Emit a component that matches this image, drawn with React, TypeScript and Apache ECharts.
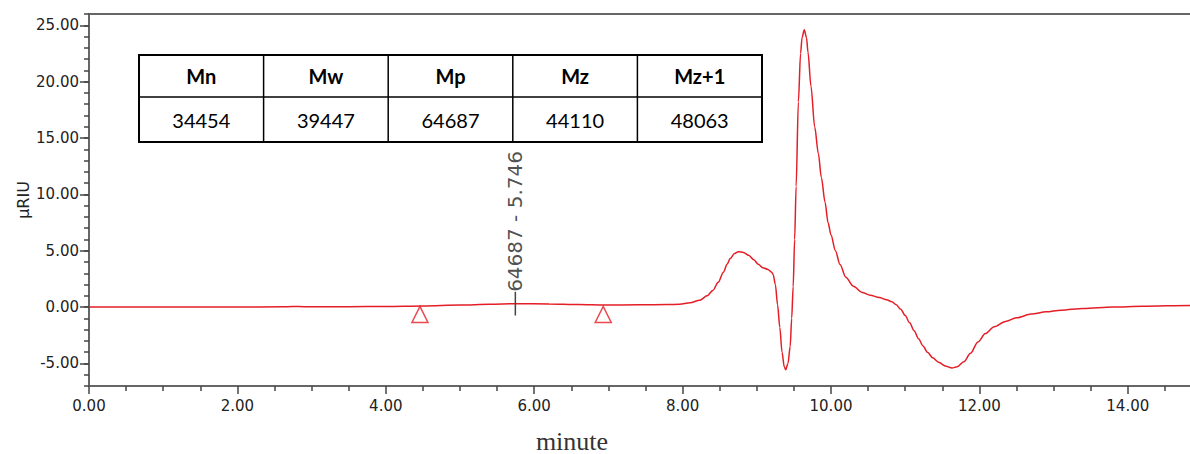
import React, { useEffect, useRef } from 'react';
import * as echarts from 'echarts';

// Retention time (minute)
const timeMin = [
  0.0, 1.0, 2.0, 2.6, 2.75, 2.9, 3.0, 3.5, 4.0, 4.5, 5.0, 5.4, 5.75, 6.2, 6.6, 6.95, 7.4, 7.8,
  7.96, 8.1, 8.23, 8.33, 8.41, 8.48, 8.55, 8.6, 8.64, 8.7, 8.75, 8.82, 8.89, 8.96, 9.02, 9.08,
  9.15, 9.2, 9.22, 9.25, 9.28, 9.31, 9.34, 9.37, 9.39, 9.42, 9.45, 9.47, 9.49, 9.51, 9.53, 9.56,
  9.59, 9.61, 9.64, 9.67, 9.69, 9.73, 9.78, 9.83, 9.87, 9.92, 9.96, 10.0, 10.06, 10.12, 10.2,
  10.3, 10.42, 10.53, 10.65, 10.75, 10.82, 10.88, 10.94, 11.0, 11.06, 11.12, 11.18, 11.24, 11.3,
  11.37, 11.45, 11.55, 11.63, 11.7, 11.79, 11.88, 11.98, 12.08, 12.2, 12.35, 12.5, 12.7, 12.9, 13.1,
  13.4, 13.8, 14.2, 14.84, 15.0,
];
// Detector response (µRIU)
const signal = [
  0.0, 0.0, 0.0, 0.02, 0.06, 0.04, 0.03, 0.04, 0.06, 0.1, 0.18, 0.25, 0.3, 0.28, 0.22, 0.18, 0.2, 0.22,
  0.26, 0.38, 0.6, 1.0, 1.5, 2.2, 3.1, 3.8, 4.3, 4.75, 4.91, 4.85, 4.6, 4.2, 3.8, 3.5,
  3.34, 3.1, 2.9, 2.0, 0.2, -1.8, -4.0, -5.3, -5.55, -5.0, -3.5, -1.0, 1.8, 6.0, 10.7, 18.2,
  22.5, 23.9, 24.6, 23.9, 22.6, 19.6, 16.0, 13.6, 11.5, 9.3, 7.5, 6.4, 5.0, 3.8, 2.65,
  1.85, 1.3, 1.05, 0.85, 0.65, 0.47, 0.2, -0.2, -0.75, -1.4, -2.1, -2.8, -3.45, -4.0,
  -4.5, -4.9, -5.25, -5.4, -5.3, -4.85, -4.1, -3.1, -2.35, -1.75, -1.28, -0.95, -0.62, -0.42, -0.27,
  -0.12, 0.0, 0.07, 0.15, 0.15,
];

const markerTimes = [4.46, 6.93];
const markerLevels = [-0.65, -0.65];
const peakTime = 5.746;
const peakTickRange = [-0.75, 1.35];
const peakLabel = '64687 - 5.746';

const tableHeaders = ['Mn', 'Mw', 'Mp', 'Mz', 'Mz+1'];
const tableValues = ['34454', '39447', '64687', '44110', '48063'];

const yMajorTicks = [-5, 0, 5, 10, 15, 20, 25];

const RED = '#e41e26';
const AXIS = '#666666';
const TICK = '#444444';
const LABEL = '#222222';
const SANS = 'DejaVu Sans';

function buildTable() {
  const left = 139;
  const top = 55;
  const colW = 124.6;
  const h1 = 42;
  const h2 = 45;
  const children: any[] = [];
  children.push({
    type: 'rect',
    shape: { x: left, y: top, width: colW * tableHeaders.length, height: h1 + h2 },
    style: { fill: '#fff', stroke: '#000', lineWidth: 2 },
  });
  children.push({
    type: 'line',
    shape: { x1: left, y1: top + h1, x2: left + colW * tableHeaders.length, y2: top + h1 },
    style: { stroke: '#000', lineWidth: 1.5 },
  });
  for (let i = 1; i < tableHeaders.length; i++) {
    children.push({
      type: 'line',
      shape: { x1: left + colW * i, y1: top, x2: left + colW * i, y2: top + h1 + h2 },
      style: { stroke: '#000', lineWidth: 1.5 },
    });
  }
  tableHeaders.forEach((h, i) => {
    children.push({
      type: 'text',
      x: left + colW * i + colW / 2,
      y: top + h1 / 2,
      style: {
        text: h,
        fill: '#000',
        font: 'bold 20px Lato',
        align: 'center',
        verticalAlign: 'middle',
      },
    });
  });
  tableValues.forEach((v, i) => {
    children.push({
      type: 'text',
      x: left + colW * i + colW / 2,
      y: top + h1 + h2 / 2,
      style: {
        text: v,
        fill: '#000',
        font: '20px Lato',
        align: 'center',
        verticalAlign: 'middle',
      },
    });
  });
  return children;
}

export default function App() {
  const ref = useRef<HTMLDivElement>(null);

  useEffect(() => {
    if (!ref.current) return;
    const chart = echarts.init(ref.current, undefined, { renderer: 'svg' });
    const lineData = timeMin.map((t, i) => [t, signal[i]]);
    const option: any = {
      animation: false,
      backgroundColor: '#fff',
      grid: { left: 89, right: 0, top: 14, bottom: 68 },
      xAxis: [
        {
          type: 'value',
          min: 0,
          max: 15,
          interval: 2,
          axisLine: { show: true, onZero: false, lineStyle: { color: AXIS, width: 2 } },
          axisTick: { show: true, length: 8, lineStyle: { color: TICK, width: 1.5 } },
          minorTick: { show: true, splitNumber: 4, length: 5, lineStyle: { color: TICK, width: 1.5 } },
          splitLine: { show: false },
          minorSplitLine: { show: false },
          axisLabel: {
            formatter: (v: number) => v.toFixed(2),
            fontFamily: SANS,
            fontSize: 15,
            color: LABEL,
            margin: 12,
            showMaxLabel: false,
          },
        },
        {
          type: 'value',
          position: 'top',
          min: 0,
          max: 15,
          axisLine: { show: true, onZero: false, lineStyle: { color: AXIS, width: 2 } },
          axisTick: { show: false },
          axisLabel: { show: false },
          splitLine: { show: false },
        },
      ],
      yAxis: [
        {
          type: 'value',
          min: -7,
          max: 26,
          interval: 1,
          axisLine: { show: true, onZero: false, lineStyle: { color: AXIS, width: 2 } },
          axisTick: { show: true, length: 5, lineStyle: { color: TICK, width: 1.5 } },
          axisLabel: { show: false },
          splitLine: { show: false },
          name: 'µRIU',
          nameLocation: 'middle',
          nameRotate: 90,
          nameGap: 58,
          nameTextStyle: { fontFamily: SANS, fontSize: 16, color: LABEL },
        },
        {
          type: 'value',
          position: 'left',
          offset: 0,
          min: -7,
          max: 26,
          interval: 1,
          axisLine: { show: false, onZero: false },
          axisTick: {
            show: true,
            length: 9,
            customValues: yMajorTicks,
            lineStyle: { color: TICK, width: 1.5 },
          },
          axisLabel: {
            show: true,
            customValues: yMajorTicks,
            formatter: (v: number) => v.toFixed(2),
            fontFamily: SANS,
            fontSize: 15,
            color: LABEL,
            margin: 10,
          },
          splitLine: { show: false },
        },
      ],
      graphic: [
        {
          type: 'text',
          x: 572,
          y: 441,
          style: {
            text: 'minute',
            font: '26px "Liberation Serif"',
            fill: '#333',
            align: 'center',
            verticalAlign: 'middle',
          },
        },
        { type: 'group', children: buildTable() },
      ],
      series: [
        {
          name: 'signal',
          type: 'line',
          data: lineData,
          symbol: 'none',
          smooth: 0.3,
          smoothMonotone: 'x',
          lineStyle: { color: RED, width: 1.5 },
          z: 2,
        },
        {
          name: 'peakTick',
          type: 'line',
          data: [
            [peakTime, peakTickRange[0]],
            [peakTime, peakTickRange[1]],
          ],
          symbol: 'none',
          lineStyle: { color: TICK, width: 1.5 },
          z: 3,
        },
        {
          name: 'peakLabel',
          type: 'scatter',
          data: [[peakTime, peakTickRange[1]]],
          symbolSize: 1,
          itemStyle: { color: 'rgba(0,0,0,0)' },
          label: {
            show: true,
            formatter: peakLabel,
            position: 'inside',
            rotate: 90,
            align: 'left',
            verticalAlign: 'middle',
            fontFamily: SANS,
            fontSize: 20,
            color: LABEL,
          },
          z: 4,
        },
        {
          name: 'markers',
          type: 'scatter',
          data: markerTimes.map((t, i) => [t, markerLevels[i]]),
          symbol: 'triangle',
          symbolSize: [16, 16],
          itemStyle: { color: 'rgba(255,255,255,0)', borderColor: RED, borderWidth: 1.5 },
          z: 4,
        },
      ],
    };
    chart.setOption(option);
    return () => chart.dispose();
  }, []);

  return (
    <div
      ref={ref}
      style={{ position: 'fixed', left: 0, top: 0, width: 1202, height: 454, background: '#fff' }}
    />
  );
}
